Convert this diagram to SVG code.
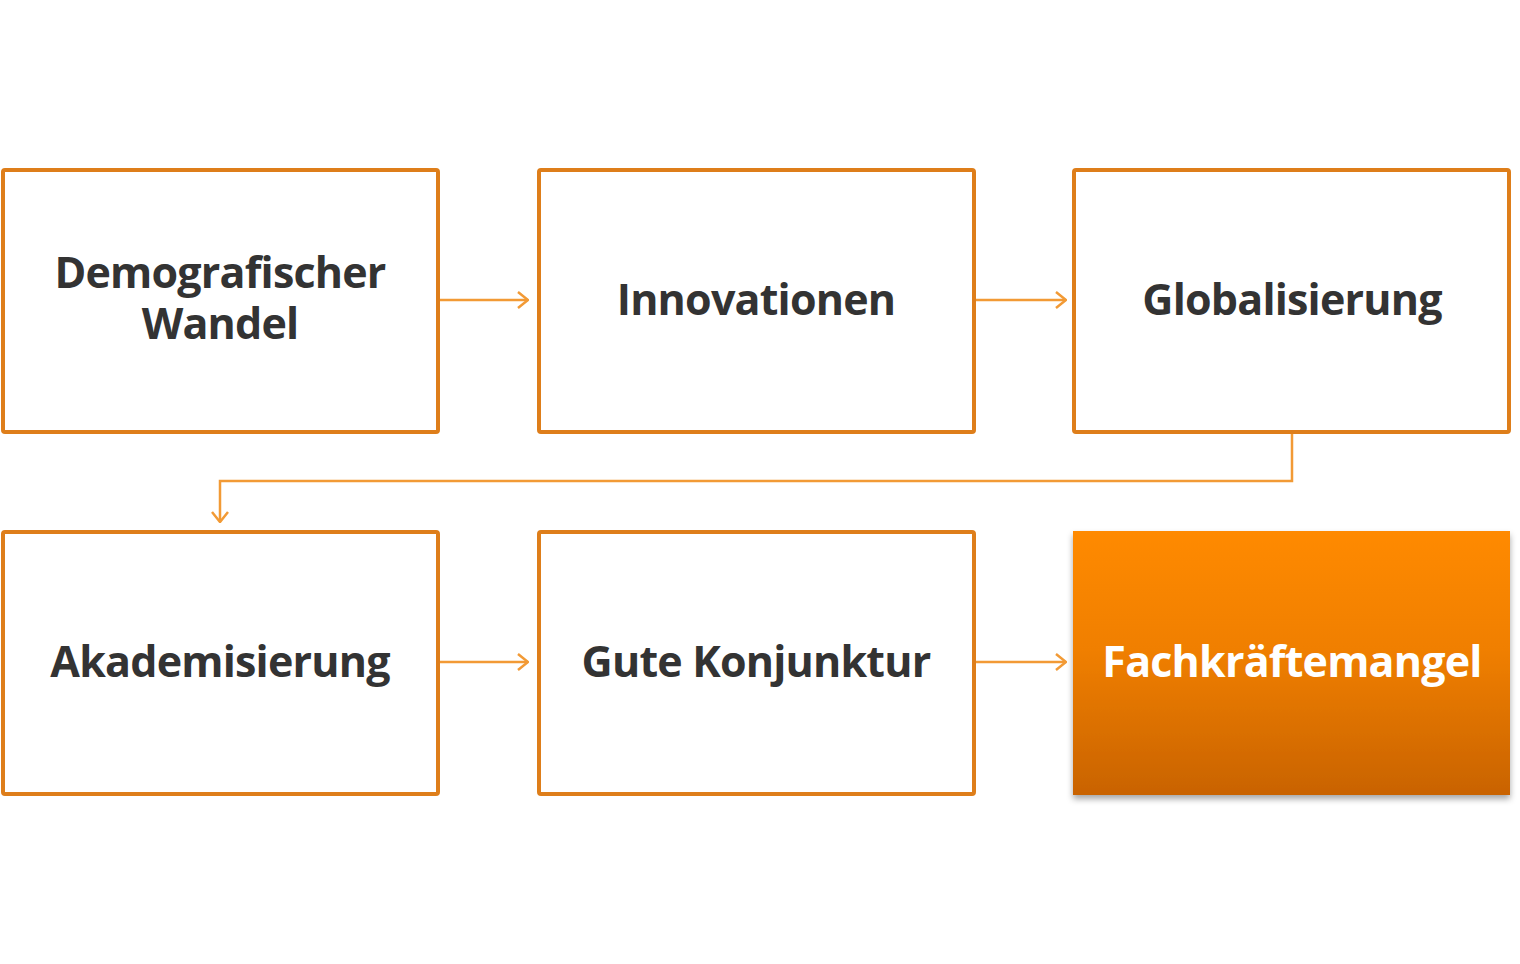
<svg xmlns="http://www.w3.org/2000/svg" width="1520" height="964" viewBox="0 0 1520 964">
<style>
.box{fill:#fff;stroke:#DE7E1A;stroke-width:4}
.t{font-family:"Open Sans","Liberation Sans",sans-serif;font-weight:700;font-size:43px;fill:#333;text-anchor:middle;letter-spacing:-0.8px}
.w{fill:#fff}
.c{fill:none;stroke:#F29A35;stroke-width:2.5}
</style>
<defs>
<marker id="ah" viewBox="0 0 12 18" refX="11" refY="9" markerWidth="12" markerHeight="18" markerUnits="userSpaceOnUse" orient="auto">
<path d="M1,1 L11,9 L1,17" fill="none" stroke="#F29A35" stroke-width="2.5"/>
</marker>
<linearGradient id="g" x1="0" y1="0" x2="0" y2="1">
<stop offset="0" stop-color="#FF8A00"/>
<stop offset="0.45" stop-color="#F07F00"/>
<stop offset="1" stop-color="#C96300"/>
</linearGradient>
<filter id="sh" x="-5%" y="-5%" width="110%" height="115%">
<feDropShadow dx="0" dy="4" stdDeviation="3" flood-color="#000" flood-opacity="0.35"/>
</filter>
</defs>
<rect width="1520" height="964" fill="#fff"/>
<g id="connectors">
<path class="c" d="M440,300 H528" marker-end="url(#ah)"/>
<path class="c" d="M976,300 H1066" marker-end="url(#ah)"/>
<path class="c" d="M1292,433 V481 H220 V522" marker-end="url(#ah)"/>
<path class="c" d="M440,662 H528" marker-end="url(#ah)"/>
<path class="c" d="M976,662 H1066" marker-end="url(#ah)"/>
</g>
<g id="n1"><rect class="box" x="3" y="170" width="435" height="262" rx="2"/><text class="t"><tspan x="220" y="288">Demografischer</tspan><tspan x="220" y="339">Wandel</tspan></text></g>
<g id="n2"><rect class="box" x="539" y="170" width="435" height="262" rx="2"/><text class="t" x="756" y="315">Innovationen</text></g>
<g id="n3"><rect class="box" x="1074" y="170" width="435" height="262" rx="2"/><text class="t" x="1292" y="315">Globalisierung</text></g>
<g id="n4"><rect class="box" x="3" y="532" width="435" height="262" rx="2"/><text class="t" x="220" y="677">Akademisierung</text></g>
<g id="n5"><rect class="box" x="539" y="532" width="435" height="262" rx="2"/><text class="t" x="756" y="677">Gute Konjunktur</text></g>
<g id="n6"><rect x="1073" y="531" width="437" height="264" fill="url(#g)" filter="url(#sh)"/><text class="t w" x="1292" y="677">Fachkräftemangel</text></g>
</svg>
